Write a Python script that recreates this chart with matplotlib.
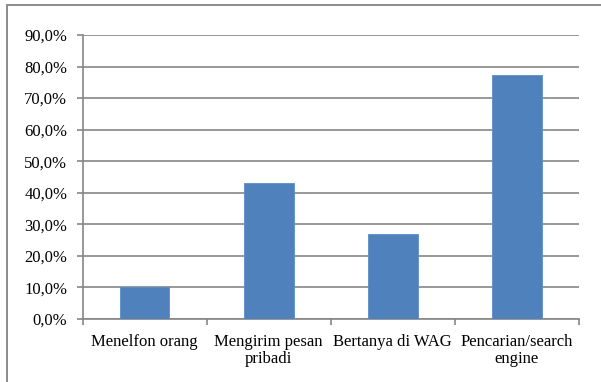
import matplotlib
matplotlib.use("Agg")
import matplotlib.pyplot as plt
from matplotlib.patches import Rectangle
from matplotlib.ticker import FuncFormatter

categories = ["Menelfon orang", "Mengirim pesan\npribadi", "Bertanya di WAG", "Pencarian/search\nengine"]
values = [10.0, 43.0, 27.0, 77.3]
y_ticks = [0, 10, 20, 30, 40, 50, 60, 70, 80, 90]

plt.rcParams['font.family'] = ['Liberation Serif', 'DejaVu Serif']

fig = plt.figure(figsize=(6.01, 3.82), dpi=100)
ax = fig.add_axes([82.5 / 601, (382 - 319) / 382, (579 - 82.5) / 601, (319 - 35) / 382])

grid_color = '#868686'
x = list(range(len(categories)))
ax.bar(x, values, width=0.4, color='#4F81BD', edgecolor='#5B8CC6', linewidth=0.6, zorder=3)

ax.set_ylim(0, 90)
ax.set_xlim(-0.5, len(categories) - 0.5)
ax.set_yticks(y_ticks)
ax.yaxis.set_major_formatter(FuncFormatter(lambda v, p: f"{v:.1f}".replace('.', ',') + '%'))
ax.grid(axis='y', color=grid_color, linewidth=1.2, zorder=0)
ax.set_axisbelow(True)

ax.set_xticks([i - 0.5 for i in range(len(categories) + 1)])
ax.set_xticklabels([])
ax.tick_params(axis='x', length=4, width=1.2, color=grid_color)
ax.tick_params(axis='y', length=4, width=1.2, color=grid_color, pad=7, labelsize=12)

line_step = 12.2  # points between label lines
for i, cat in enumerate(categories):
    for k, line in enumerate(cat.split('\n')):
        ax.annotate(line, xy=(i, 0), xycoords=('data', 'axes fraction'),
                    xytext=(0, -11 - k * line_step), textcoords='offset points',
                    ha='center', va='top', fontsize=12)

for s in ['top', 'right']:
    ax.spines[s].set_visible(False)
for s in ['left', 'bottom']:
    ax.spines[s].set_color(grid_color)
    ax.spines[s].set_linewidth(1.2)

# outer chart frame (cropped at right and bottom)
fig.add_artist(Rectangle((7 / 601, -0.1), 1.2, (382 - 5) / 382 + 0.1, transform=fig.transFigure,
                         fill=False, edgecolor='#8C8C8C', linewidth=1.4))

fig.savefig('out.png', dpi=100)
